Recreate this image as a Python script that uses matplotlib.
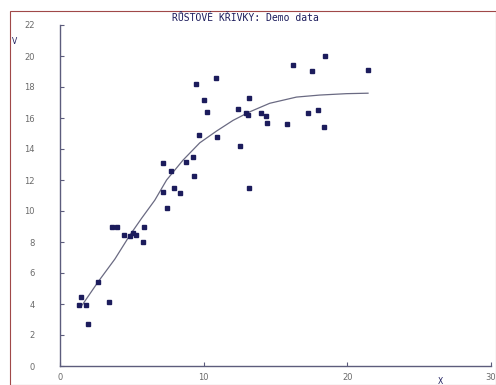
import matplotlib
matplotlib.use("Agg")
import matplotlib.pyplot as plt
from matplotlib.patches import Rectangle

# measured points
data_x = [1.34, 1.44, 1.81, 1.97, 2.66, 3.43, 3.60, 3.96, 4.45, 4.85,
          5.08, 5.26, 5.75, 5.84, 7.14, 7.46, 8.34, 7.16, 7.70, 7.95,
          8.74, 9.23, 9.34, 9.48, 9.69, 10.01, 10.24, 10.87, 10.92, 12.38,
          12.50, 12.93, 13.14, 13.09, 13.16, 13.98, 14.37, 14.42, 15.77, 16.22,
          17.27, 17.55, 17.96, 18.38, 18.43, 21.44]
data_y = [3.94, 4.47, 3.94, 2.73, 5.44, 4.15, 8.97, 8.97, 8.45, 8.37,
          8.58, 8.45, 8.02, 8.97, 11.25, 10.17, 11.14, 13.10, 12.58, 11.46,
          13.18, 13.50, 12.28, 18.19, 14.90, 17.14, 16.41, 18.60, 14.79, 16.60,
          14.19, 16.30, 17.27, 16.19, 11.46, 16.30, 16.13, 15.70, 15.59, 19.42,
          16.30, 19.01, 16.52, 15.40, 20.02, 19.12]

# growth curve
curve_x = [1.55, 2.66, 3.82, 4.87, 5.68, 6.6, 7.42, 8.57, 9.73, 10.9,
           12.05, 13.21, 14.6, 16.46, 18.08, 19.94, 21.44]
curve_y = [3.94, 5.44, 6.9, 8.45, 9.53, 10.7, 12.0, 13.29, 14.4, 15.16,
           15.85, 16.4, 16.95, 17.35, 17.48, 17.57, 17.6]

x_ticks = [0, 10, 20, 30]
y_ticks = [0, 2, 4, 6, 8, 10, 12, 14, 16, 18, 20, 22]

W, H = 496, 385
fig = plt.figure(figsize=(W / 100, H / 100), dpi=100)
fig.patch.set_facecolor("white")

# dark red frame round the chart
fig.patches.append(Rectangle((10 / W, 0), 1 - 10 / W, 1 - 11 / H,
                             transform=fig.transFigure, fill=False,
                             edgecolor="#a04848", linewidth=0.8))

ax = fig.add_axes([60 / W, (H - 366) / H, (491 - 60) / W, (366 - 25) / H])
ax.set_xlim(0, 30)
ax.set_ylim(0, 22)

axis_col = "#5c5c7c"
for s in ["top", "right"]:
    ax.spines[s].set_visible(False)
for s in ["left", "bottom"]:
    ax.spines[s].set_color(axis_col)
    ax.spines[s].set_linewidth(1.0)

ax.set_xticks(x_ticks)
ax.set_yticks(y_ticks)
ax.tick_params(axis="y", direction="in", length=3, color=axis_col,
               labelsize=6, labelcolor="#6a6a6a", pad=18)
ax.tick_params(axis="x", direction="in", length=3, color=axis_col,
               labelsize=6, labelcolor="#6a6a6a", pad=5)

ax.plot(curve_x, curve_y, color="#6a6a82", linewidth=0.9, zorder=2)
ax.plot(data_x, data_y, linestyle="none", marker="s", markersize=2.3,
        color="#1c1c5c", zorder=3)

fig.text(245 / W, 1 - 18 / H, "RŮSTOVÉ KŘIVKY: Demo data",
         ha="center", va="center", family="DejaVu Sans Mono",
         fontsize=7, color="#1c1c5c")
fig.text(15 / W, 1 - 42 / H, "V", ha="center", va="center",
         fontsize=5.5, color="#1c1c5c")
fig.text(440 / W, 1 - 381 / H, "X", ha="center", va="center",
         fontsize=5.5, color="#1c1c5c")

fig.savefig("out.png", dpi=100)
